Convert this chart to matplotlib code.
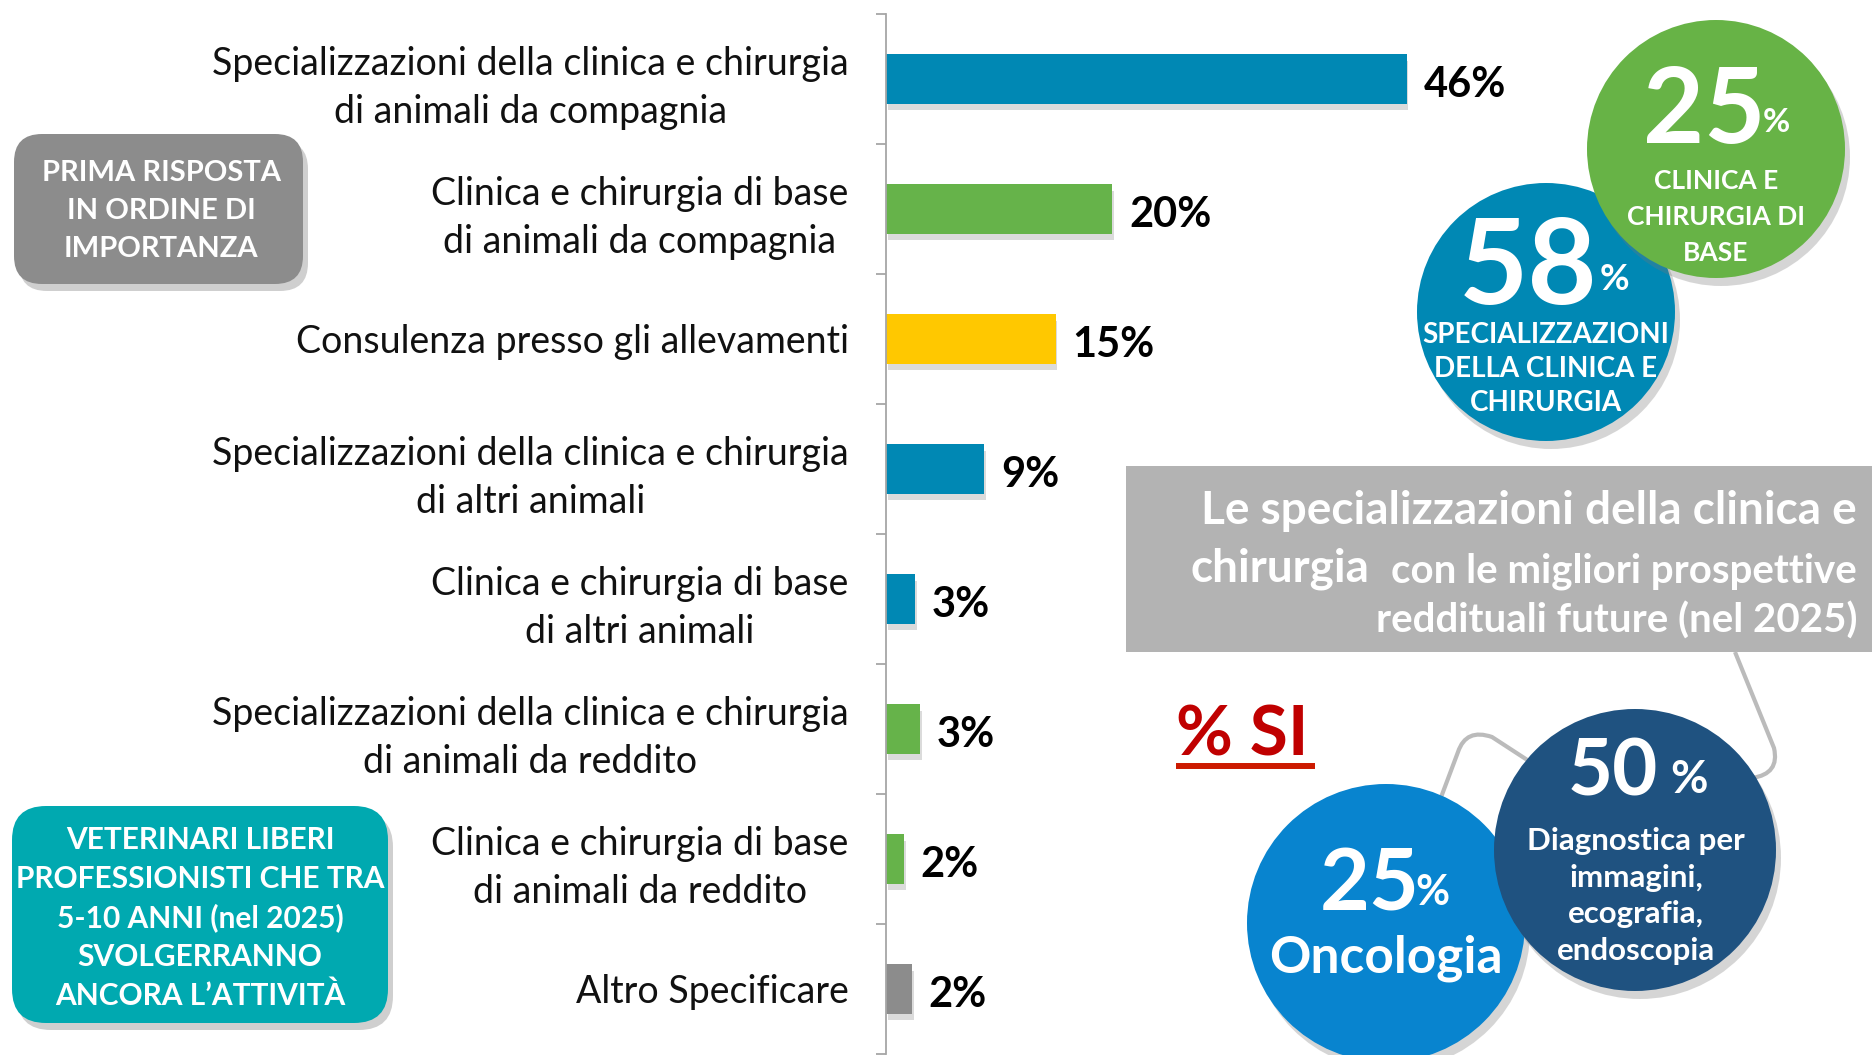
import matplotlib
matplotlib.use("Agg")
import matplotlib.pyplot as plt
from matplotlib.patches import Ellipse, FancyBboxPatch, PathPatch
from matplotlib.path import Path

# ---------------- data ----------------
categories = [
    "Specializzazioni della clinica e chirurgia\ndi animali da compagnia",
    "Clinica e chirurgia di base\ndi animali da compagnia",
    "Consulenza presso gli allevamenti",
    "Specializzazioni della clinica e chirurgia\ndi altri animali",
    "Clinica e chirurgia di base\ndi altri animali",
    "Specializzazioni della clinica e chirurgia\ndi animali da reddito",
    "Clinica e chirurgia di base\ndi animali da reddito",
    "Altro Specificare",
]
values = [46, 20, 15, 8.7, 2.6, 3.0, 1.6, 2.3]
value_labels = ["46%", "20%", "15%", "9%", "3%", "3%", "2%", "2%"]
bar_colors = ["#0088B4", "#66B34A", "#FFC800", "#0088B4",
              "#0088B4", "#66B34A", "#66B34A", "#8C8C8C"]

box_left_top = "PRIMA RISPOSTA\nIN ORDINE DI\nIMPORTANZA"
box_left_bottom = "VETERINARI LIBERI\nPROFESSIONISTI CHE TRA\n5-10 ANNI (nel 2025)\nSVOLGERRANNO\nANCORA L\u2019ATTIVIT\u00c0"

bubble_top_values = ["58", "25"]
bubble_top_texts = ["SPECIALIZZAZIONI\nDELLA CLINICA E\nCHIRURGIA", "CLINICA E\nCHIRURGIA DI\nBASE"]
bubble_bottom_values = ["25", "50"]
bubble_bottom_texts = ["Oncologia", "Diagnostica per\nimmagini,\necografia,\nendoscopia"]

title_bold = ["Le specializzazioni della clinica e", "chirurgia"]
title_regular = ["con le migliori prospettive", "reddituali future (nel 2025)"]
si_label = "% SI"

# ---------------- figure ----------------
W, H = 1872, 1055
fig = plt.figure(figsize=(W / 100, H / 100), dpi=100)
fig.patch.set_facecolor("white")

SANS = ["Lato", "DejaVu Sans"]

ax = fig.add_axes([886 / W, 1 / H, 566 / W, 1040 / H])
ax.set_xlim(0, 50)
ax.set_ylim(len(categories) - 0.5, -0.5)
ypos = list(range(len(categories)))
ax.barh([y + 0.05 for y in ypos], values, height=0.38, left=0.15,
        color="#9a9a9a", alpha=0.35, zorder=1, linewidth=0)
ax.barh(ypos, values, height=0.38, color=bar_colors, zorder=2, linewidth=0)
for y, v, lab in zip(ypos, values, value_labels):
    ax.annotate(lab, (v, y), xytext=(12, -4), textcoords="offset points",
                ha="left", va="center", fontsize=30, fontweight="bold",
                family=SANS, color="black")

ax.set_yticks(ypos)
ax.set_yticklabels(categories, family=SANS, fontsize=27, color="#111111",
                   linespacing=1.4)
for t in ax.get_yticklabels():
    t.set_multialignment("center")
ax.tick_params(axis="y", which="major", length=0, pad=27)
ax.set_yticks([y - 0.5 for y in ypos] + [len(categories) - 0.5], minor=True)
ax.tick_params(axis="y", which="minor", length=7, width=1.3, color="#A6A6A6")
ax.set_xticks([])
for s in ["top", "right", "bottom"]:
    ax.spines[s].set_visible(False)
ax.spines["left"].set_color("#A6A6A6")
ax.spines["left"].set_linewidth(1.3)
ax.patch.set_alpha(0)

# ---------------- overlay (pixel coordinates) ----------------
ov = fig.add_axes([0, 0, 1, 1], zorder=5)
ov.set_xlim(0, W)
ov.set_ylim(H, 0)
ov.axis("off")
ov.patch.set_alpha(0)


def rbox(x0, y0, w, h, color, r=28):
    sh = FancyBboxPatch((x0 + 5, y0 + 7), w, h, boxstyle=f"round,pad=0,rounding_size={r}",
                        fc="#777777", ec="none", alpha=0.35, zorder=1)
    ov.add_patch(sh)
    p = FancyBboxPatch((x0, y0), w, h, boxstyle=f"round,pad=0,rounding_size={r}",
                       fc=color, ec="none", zorder=2)
    ov.add_patch(p)


rbox(14, 134, 289, 150, "#8C8C8C")
ov.text(161, 211, box_left_top, ha="center", va="center", color="white",
        fontsize=21, fontweight="bold", family=SANS, linespacing=1.55, zorder=3)
rbox(12, 806, 376, 217, "#00A9B0", r=34)
ov.text(200, 918, box_left_bottom, ha="center", va="center", color="white",
        fontsize=21.5, fontweight="bold", family=SANS, linespacing=1.45, zorder=3)

# title box
ov.add_patch(FancyBboxPatch((1126, 466), 746, 186, boxstyle="square,pad=0",
                            fc="#B3B3B3", ec="none", zorder=2))
ov.text(1857, 511, title_bold[0], ha="right", va="center", color="white",
        fontsize=33, fontweight="bold", family=SANS, zorder=3)
ov.text(1190, 569, title_bold[1], ha="left", va="center", color="white",
        fontsize=33, fontweight="bold", family=SANS, zorder=3)
ov.text(1857, 571, title_regular[0], ha="right", va="center", color="white",
        fontsize=29, fontweight="bold", family=SANS, zorder=3)
ov.text(1857, 621, title_regular[1], ha="right", va="center", color="white",
        fontsize=29, fontweight="bold", family=SANS, zorder=3)

# % SI
ov.text(1176, 755, si_label, ha="left", va="baseline", color="#C00000",
        fontsize=50, fontweight="bold", family=SANS, zorder=3)
ov.plot([1176, 1315], [766, 766], color="#CC1A00", lw=4.3, solid_capstyle="butt", zorder=3)

# connectors
conn_color = "#BBBBBB"
p1 = Path([(1735, 652), (1774, 748), (1780, 774), (1752, 778)],
          [Path.MOVETO, Path.LINETO, Path.CURVE3, Path.CURVE3])
ov.add_patch(PathPatch(p1, fc="none", ec=conn_color, lw=3, zorder=2))
p2 = Path([(1440, 800), (1458, 752), (1466, 728), (1492, 737), (1535, 765)],
          [Path.MOVETO, Path.LINETO, Path.CURVE3, Path.CURVE3, Path.LINETO])
ov.add_patch(PathPatch(p2, fc="none", ec=conn_color, lw=3, zorder=2))


def bubble(cx, cy, r, color, z):
    ov.add_patch(Ellipse((cx + 5, cy + 8), 2 * r, 2 * r, fc="#777777", ec="none",
                         alpha=0.3, zorder=z))
    ov.add_patch(Ellipse((cx, cy), 2 * r, 2 * r, fc=color, ec="none", zorder=z + 0.1))


# top bubbles
bubble(1546, 312, 129, "#0088B4", 4)
ov.text(1528, 270, bubble_top_values[0], ha="center", va="center", color="white",
        fontsize=86, fontweight="bold", family=SANS, zorder=4.5)
ov.text(1614, 280, "%", ha="center", va="center", color="white",
        fontsize=26, fontweight="bold", family=SANS, zorder=4.5)
ov.text(1546, 369, bubble_top_texts[0], ha="center", va="center", color="white",
        fontsize=20, fontweight="bold", family=SANS, linespacing=1.4, zorder=4.5)

bubble(1716, 149, 129, "#67B346", 6)
ov.text(1704, 113, bubble_top_values[1], ha="center", va="center", color="white",
        fontsize=76, fontweight="bold", family=SANS, zorder=6.5)
ov.text(1776, 122, "%", ha="center", va="center", color="white",
        fontsize=24, fontweight="bold", family=SANS, zorder=6.5)
ov.text(1716, 217, bubble_top_texts[1], ha="center", va="center", color="white",
        fontsize=19, fontweight="bold", family=SANS, linespacing=1.6, zorder=6.5)

# bottom bubbles
bubble(1386, 923, 139, "#0884CF", 8)
ov.text(1370, 886, bubble_bottom_values[0], ha="center", va="center", color="white",
        fontsize=62, fontweight="bold", family=SANS, zorder=8.5)
ov.text(1432, 893, "%", ha="center", va="center", color="white",
        fontsize=30, fontweight="bold", family=SANS, zorder=8.5)
ov.text(1386, 958, bubble_bottom_texts[0], ha="center",
        va="center", color="white", fontsize=37, fontweight="bold", family=SANS, zorder=8.5)

bubble(1635, 850, 141, "#1F5280", 10)
ov.text(1613, 773, bubble_bottom_values[1], ha="center", va="center", color="white",
        fontsize=56, fontweight="bold", family=SANS, zorder=10.5)
ov.text(1689, 780, "%", ha="center", va="center", color="white",
        fontsize=33, fontweight="bold", family=SANS, zorder=10.5)
ov.text(1636, 896, bubble_bottom_texts[1], ha="center", va="center", color="white",
        fontsize=22.5, fontweight="bold", family=SANS, linespacing=1.37, zorder=10.5)

fig.savefig("out.png", dpi=100, facecolor="white")
